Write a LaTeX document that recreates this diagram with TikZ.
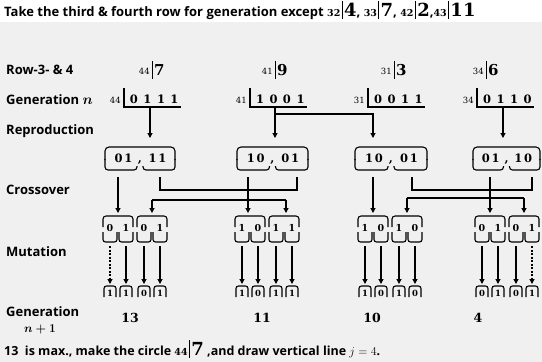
\documentclass[tikz,border=0pt]{standalone}
\usepackage{fontspec}
\newfontfamily\osans{Open Sans}
\newfontfamily\dser{DejaVu Serif}
\usetikzlibrary{arrows.meta}
\newcommand\smallnum[1]{{\fontsize{9.5}{9.5}\selectfont\dser #1}}
\newcommand\bignum[1]{{\fontsize{18}{18}\selectfont\dser\bfseries #1}}
\newcommand\fitin[2]{\smallnum{#1}\kern1.5pt\rule[-3pt]{0.7pt}{18pt}\kern1.5pt\bignum{#2}}
\tikzset{
  ln/.style={line width=1.1pt, black},
  arr/.style={ln, -{Triangle[length=5pt,width=5pt]}},
  lab/.style={anchor=west, inner sep=0pt, font=\osans\bfseries\fontsize{13}{13}\selectfont},
  bit/.style={inner sep=0pt, font=\dser\bfseries\fontsize{11.5}{12}\selectfont},
  cbit/.style={inner sep=0pt, font=\dser\bfseries\fontsize{9.5}{10}\selectfont},
  rbit/.style={inner sep=0pt, font=\dser\bfseries\fontsize{8.5}{9}\selectfont},
  small/.style={inner sep=0pt, font=\fontsize{8.5}{8.5}\selectfont\dser},
  big/.style={inner sep=0pt, font=\fontsize{15}{15}\selectfont\dser\bfseries},
  val/.style={inner sep=0pt, font=\dser\bfseries\fontsize{12.5}{13}\selectfont},
}
\begin{document}
\begin{tikzpicture}[x=1pt,y=-1pt]
\fill[white] (0,0) rectangle (542,362);
\fill[black!6] (0,22) rectangle (542,362);
\useasboundingbox (0,0) rectangle (542,362);

% title
\node[anchor=base west, inner sep=0pt, font=\osans\bfseries\fontsize{13}{13}\selectfont] (title) at (4,16)
  {Take the third \& fourth row for generation except \fitin{32}{4}, \fitin{33}{7}, \fitin{42}{2},\fitin{43}{11}};

% row labels
\node[lab] (lrow) at (6,70) {Row-3- \& 4};
\node[lab] (lgen) at (6,100) {Generation {\fontsize{14}{14}\selectfont\boldmath$n$}};
\node[lab] (lrep) at (6,131) {Reproduction};
\node[lab] (lcro) at (6,190) {Crossover};
\node[lab] (lmut) at (6,252) {Mutation};
\node[lab] (lgn1) at (6,312) {Generation};
\node[inner sep=0pt, font=\fontsize{12.5}{12.5}\selectfont\boldmath] (lgn1b) at (40,329) {$n+1$};

% row 3 & 4 fitness
\foreach \b/\s/\v [count=\k] in {152/44/7, 275/41/9, 394/31/3, 486/34/6}{
  \draw[line width=0.8pt] (\b,61) -- (\b,79);
  \node[small, anchor=east] (rs\k) at (\b-2,71) {\s};
  \node[big, anchor=west] (rv\k) at (\b+2,70) {\v};
}

% generation n chromosomes
\foreach \v/\s/\a/\bb/\c/\d [count=\k] in {124/44/0/1/1/1, 250/41/1/0/0/1, 368/31/0/0/1/1, 477/34/0/1/1/0}{
  \draw[ln] (\v,88) -- (\v,107) -- (\v+57,107);
  \node[small, anchor=east] (gs\k) at (\v-3,100) {\s};
  \node[bit] (ga\k) at (\v+10,99) {\a};
  \node[bit] (gb\k) at (\v+23.5,99) {\bb};
  \node[bit] (gc\k) at (\v+37,99) {\c};
  \node[bit] (gd\k) at (\v+50.5,99) {\d};
}

% reproduction arrows
\coordinate (r1s) at (150,107); \coordinate (r1e) at (150,138);
\coordinate (r2s) at (275,107); \coordinate (r2e) at (275,138);
\coordinate (r2m) at (275,114); \coordinate (r3e) at (373,138);
\coordinate (r4s) at (503,107); \coordinate (r4e) at (503,138);
\draw[arr] (r1s) -- (r1e);
\draw[arr] (r2s) -- (r2e);
\draw[arr] (r2m) -| (r3e);
\draw[arr] (r4s) -- (r4e);

% reproduction boxes
\foreach \L/\R/\a/\bb [count=\k] in {105/175/{0\,1}/{1\,1}, 237/308/{1\,0}/{0\,1}, 355/427/{1\,0}/{0\,1}, 473/540/{0\,1}/{1\,0}}{
  \pgfmathsetmacro\M{(\L+\R)/2}
  \draw[ln, rounded corners=4] (\L,160) -- (\L,147) -- (\R,147) -- (\R,160);
  \draw[ln, rounded corners=3] (\L,159) -- (\L,170) -- (\M-3,170) -- (\M-3,166);
  \draw[ln, rounded corners=3] (\M+3,166) -- (\M+3,170) -- (\R,170) -- (\R,159);
  \node[bit] (ba\k) at ({(\L+\M)/2+1},158) {\a};
  \node[bit] (bb\k) at ({(\M+\R)/2},158) {\bb};
  \node[bit] (bc\k) at (\M,163) {,};
}

% crossover
\draw[arr] (118,177) -- (118,213);
\draw[arr] (248,177) -- (248,213);
\draw[arr] (373,177) -- (373,213);
\draw[arr] (490,177) -- (490,213);
\draw[ln] (160,177) -- (160,190) -- (297,190) -- (297,177);
\draw[arr] (152,200) -- (152,213);
\draw[arr] (286,200) -- (286,213);
\draw[ln] (152,200) -- (286,200);
\draw[ln] (412,177) -- (412,190) -- (532,190) -- (532,177);
\draw[arr] (407,198) -- (407,213);
\draw[arr] (524,198) -- (524,213);
\draw[ln] (407,198) -- (524,198);

% mutation cells and results
\foreach \L/\ma/\mb/\mc/\md/\ra/\rb/\rc/\rd [count=\k] in
  {103/0/1/0/1/1/1/0/1, 235/1/0/1/1/1/0/1/1, 358/1/0/1/0/1/0/1/0, 475/0/1/0/1/0/1/0/1}{
  \draw[ln, rounded corners=3] (\L,227) -- (\L,216) -- (\L+30,216) -- (\L+30,227);
  \draw[ln, rounded corners=3] (\L+34,227) -- (\L+34,216) -- (\L+64,216) -- (\L+64,227);
  \foreach \o/\m/\r [count=\j] in {0/\ma/\ra, 16/\mb/\rb, 34/\mc/\rc, 50/\md/\rd}{
    \draw[ln, rounded corners=2.5] (\L+\o,232) -- (\L+\o,242) -- (\L+\o+14,242) -- (\L+\o+14,232);
    \node[cbit] (m\k\j) at (\L+\o+7,228) {\m};
    \draw[ln, rounded corners=2.5] (\L+\o+1,297) -- (\L+\o+1,286) -- (\L+\o+13,286) -- (\L+\o+13,297);
    \node[rbit] (n\k\j) at (\L+\o+7,293) {\r};
  }
}
% mutation arrows
\foreach \x in {126,144,160, 242,258,276,292, 365,381,399,415, 482,498,516}{
  \draw[arr] (\x,246) -- (\x,284);
}
\draw[arr, dash pattern=on 2pt off 1.5pt] (110,246) -- (110,284);
\draw[arr, dash pattern=on 2pt off 1.5pt] (532,246) -- (532,284);

% generation n+1 values
\node[val] (v1) at (130,318) {13};
\node[val] (v2) at (262,318) {11};
\node[val] (v3) at (372,318) {10};
\node[val] (v4) at (478,318) {4};

% bottom text
\node[anchor=base west, inner sep=0pt, font=\osans\bfseries\fontsize{12.5}{13}\selectfont] (foot) at (4,355)
  {13\ \ is max., make the circle \fitin{44}{7} ,and draw vertical line {\fontsize{13}{13}\selectfont$j=4$}.};
\end{tikzpicture}
\end{document}
